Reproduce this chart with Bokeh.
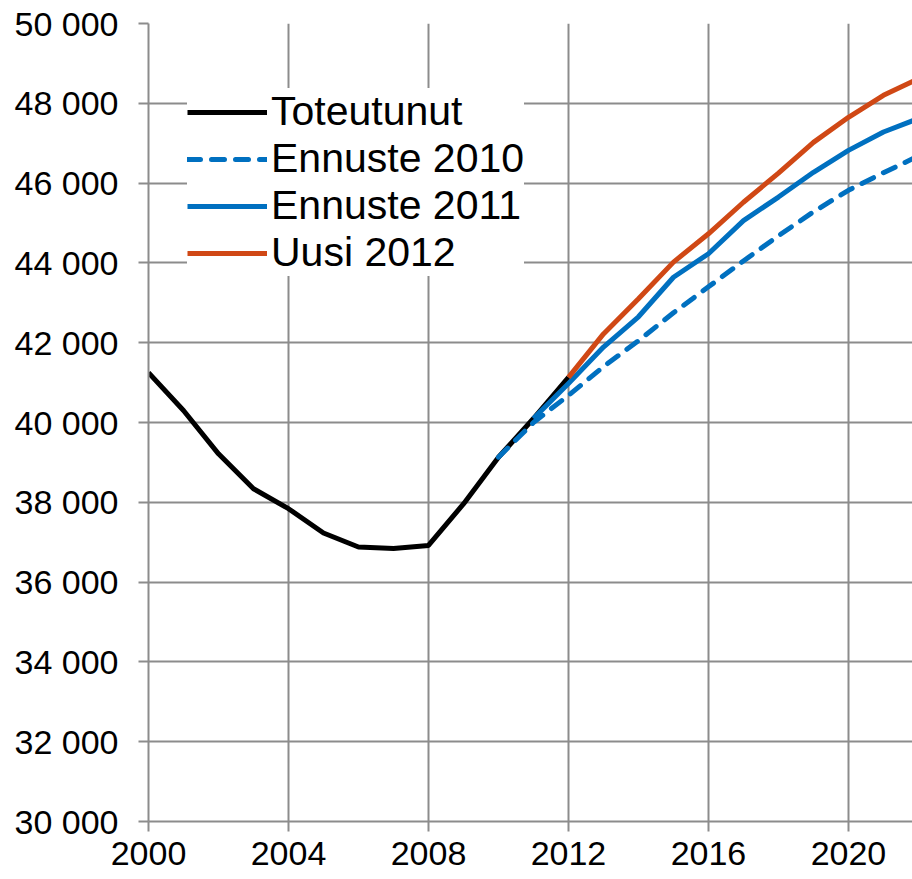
from bokeh.plotting import figure
from bokeh.models import Range1d, FixedTicker, Legend, LegendItem
from bokeh.embed import file_html
from bokeh.resources import INLINE

years_actual = [2000, 2001, 2002, 2003, 2004, 2005, 2006, 2007, 2008, 2009, 2010, 2011, 2012]
toteutunut = [41250, 40300, 39215, 38340, 37840, 37230, 36880, 36840, 36920, 37960, 39130, 40100, 41130]

years_e2010 = [2010, 2011, 2012, 2013, 2014, 2015, 2016, 2017, 2018, 2019, 2020, 2021, 2022]
ennuste_2010 = [39130, 40000, 40680, 41400, 42050, 42750, 43400, 44050, 44680, 45280, 45820, 46260, 46680]

years_e2011 = [2011, 2012, 2013, 2014, 2015, 2016, 2017, 2018, 2019, 2020, 2021, 2022]
ennuste_2011 = [40100, 40980, 41890, 42650, 43640, 44230, 45060, 45650, 46270, 46820, 47280, 47620]

years_u2012 = [2012, 2013, 2014, 2015, 2016, 2017, 2018, 2019, 2020, 2021, 2022]
uusi_2012 = [41130, 42220, 43100, 44020, 44730, 45520, 46250, 47020, 47650, 48200, 48620]

x_ticks = [2000, 2004, 2008, 2012, 2016, 2020]
y_ticks = [30000, 32000, 34000, 36000, 38000, 40000, 42000, 44000, 46000, 48000, 50000]
y_tick_labels = ["30 000", "32 000", "34 000", "36 000", "38 000", "40 000",
                 "42 000", "44 000", "46 000", "48 000", "50 000"]

FONT = "Liberation Sans"
GRID = "#8c8c8c"

p = figure(width=912, height=879, output_backend="svg", toolbar_location=None,
           x_range=Range1d(2000, 2021.83), y_range=Range1d(30000, 50000),
           min_border_left=148, min_border_right=0, min_border_top=23, min_border_bottom=58)
p.outline_line_color = None
p.background_fill_color = "white"
p.border_fill_color = "white"

p.xaxis.ticker = FixedTicker(ticks=x_ticks)
p.yaxis.ticker = FixedTicker(ticks=y_ticks)
p.yaxis.major_label_overrides = {t: l for t, l in zip(y_ticks, y_tick_labels)}
p.xaxis.major_label_overrides = {t: str(t) for t in x_ticks}

for ax in (p.xaxis, p.yaxis):
    ax.axis_line_color = GRID
    ax.axis_line_width = 2
    ax.major_tick_line_color = GRID
    ax.major_tick_line_width = 2
    ax.major_tick_in = 0
    ax.minor_tick_line_color = None
    ax.major_label_text_font = FONT
    ax.major_label_text_color = "black"

p.yaxis.major_tick_out = 10
p.xaxis.major_tick_out = 10
p.yaxis.major_label_text_font_size = "34px"
p.xaxis.major_label_text_font_size = "34px"
p.yaxis.major_label_standoff = 20
p.xaxis.major_label_standoff = 10

p.xgrid.grid_line_color = GRID
p.xgrid.grid_line_width = 2
p.ygrid.grid_line_color = GRID
p.ygrid.grid_line_width = 2

r_act = p.line(years_actual, toteutunut, line_color="black", line_width=5, line_join="round")
r_e10 = p.line(years_e2010, ennuste_2010, line_color="#0070C0", line_width=5,
               line_dash="13 11", line_cap="round", line_join="round")
r_e11 = p.line(years_e2011, ennuste_2011, line_color="#0070C0", line_width=5, line_join="round")
r_u12 = p.line(years_u2012, uusi_2012, line_color="#D04815", line_width=5, line_join="round")

legend = Legend(items=[
    LegendItem(label="Toteutunut", renderers=[r_act]),
    LegendItem(label="Ennuste 2010", renderers=[r_e10]),
    LegendItem(label="Ennuste 2011", renderers=[r_e11]),
    LegendItem(label="Uusi 2012", renderers=[r_u12]),
], location=(39, 545))
legend.label_text_font = FONT
legend.label_text_font_size = "41px"
legend.label_text_color = "black"
legend.glyph_width = 80
legend.glyph_height = 46
legend.label_height = 46
legend.label_standoff = 4
legend.spacing = 0
legend.padding = 6
legend.margin = 0
legend.border_line_color = None
legend.background_fill_color = "white"
legend.background_fill_alpha = 1.0
p.add_layout(legend, "center")

open("out.html", "w").write(file_html(p, INLINE))
